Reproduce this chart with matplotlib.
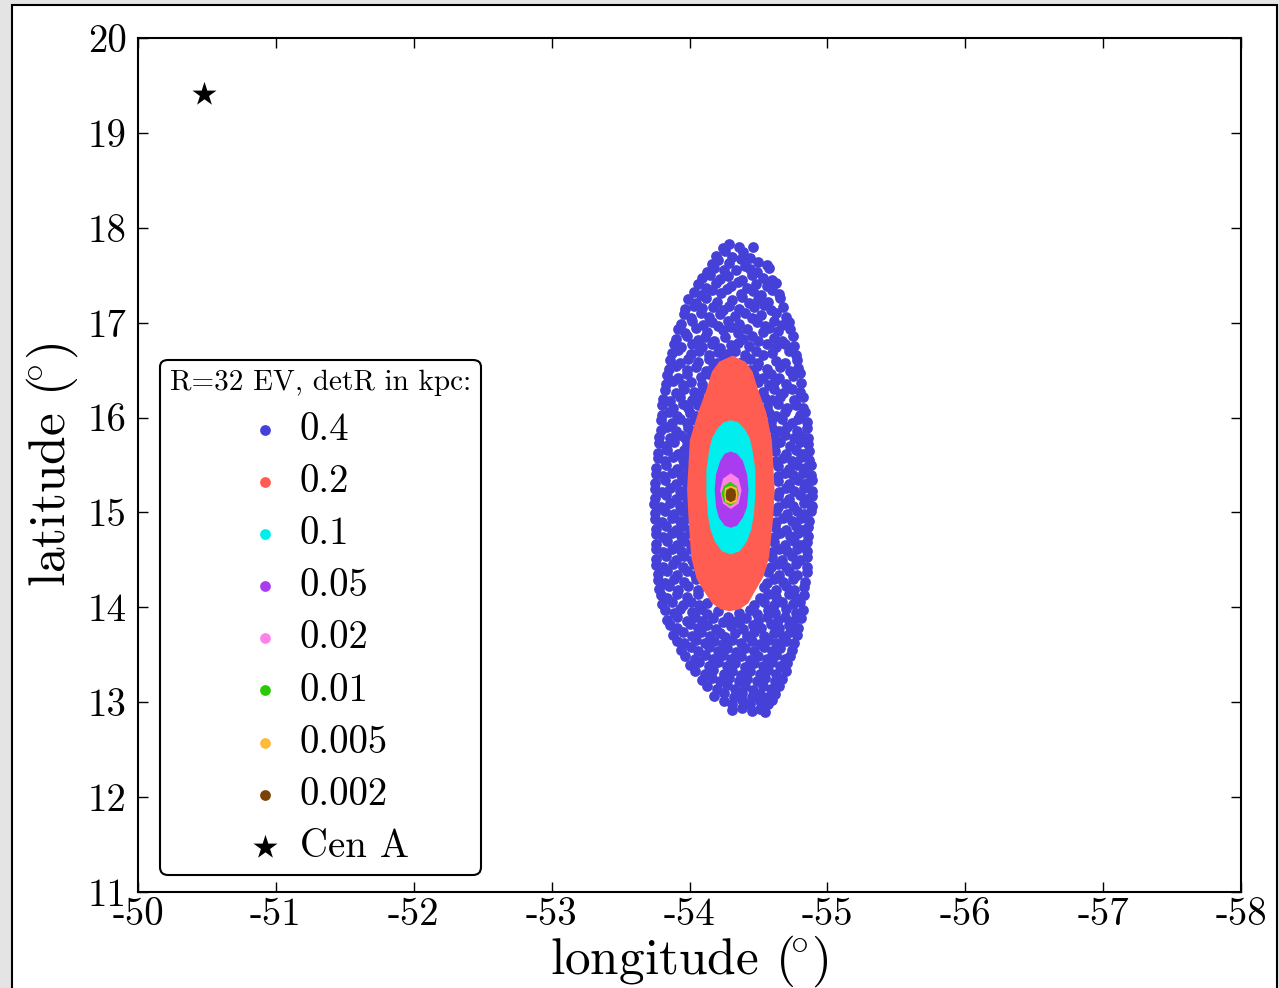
import matplotlib
matplotlib.use("Agg")
import matplotlib.pyplot as plt
from matplotlib.patches import Rectangle

plt.rcParams['font.family'] = 'serif'
plt.rcParams['font.serif'] = ['cmr10']
plt.rcParams['mathtext.fontset'] = 'cm'
plt.rcParams['axes.unicode_minus'] = False

# legend labels (detR in kpc) and colours
detr_labels = ['0.4', '0.2', '0.1', '0.05', '0.02', '0.01', '0.005', '0.002']
detr_colors = ['#4540d8', '#ff5c52', '#00eeee', '#a93cee', '#ff82e6',
               '#2cc80a', '#ffbb38', '#7a4306']

# Cen A position (lon, lat)
cen_a = (-50.48, 19.41)

blue_pts = [
    (-54.24,17.79),(-54.29,17.83),(-54.36,17.80),(-54.46,17.80),
    (-54.19,17.70),(-54.26,17.75),(-54.31,17.69),(-54.39,17.74),(-54.44,17.68),
    (-54.16,17.62),(-54.21,17.66),(-54.29,17.63),(-54.37,17.67),(-54.40,17.60),(-54.50,17.64),(-54.56,17.61),
    (-54.13,17.53),(-54.18,17.58),(-54.25,17.55),(-54.34,17.56),(-54.44,17.57),(-54.49,17.53),(-54.58,17.58),
    (-54.09,17.47),(-54.15,17.50),(-54.22,17.46),(-54.28,17.49),(-54.38,17.45),(-54.45,17.50),(-54.53,17.47),(-54.60,17.45),
    (-54.06,17.41),(-54.12,17.37),(-54.19,17.42),(-54.30,17.39),(-54.35,17.43),(-54.42,17.37),(-54.48,17.41),(-54.56,17.39),(-54.63,17.42),
    (-54.03,17.32),(-54.08,17.29),(-54.16,17.34),(-54.23,17.31),(-54.27,17.35),(-54.37,17.30),(-54.46,17.33),(-54.52,17.29),(-54.60,17.34),(-54.65,17.30),
    (-53.99,17.25),(-54.05,17.21),(-54.12,17.26),(-54.20,17.22),(-54.31,17.24),(-54.38,17.27),(-54.43,17.21),(-54.50,17.25),(-54.57,17.22),(-54.66,17.26),
    (-53.97,17.14),(-54.03,17.18),(-54.09,17.15),(-54.17,17.17),(-54.24,17.13),(-54.29,17.18),(-54.36,17.14),(-54.47,17.16),(-54.54,17.19),(-54.59,17.13),(-54.68,17.16),
    (-53.96,17.09),(-54.01,17.05),(-54.08,17.10),(-54.14,17.06),(-54.22,17.09),(-54.33,17.07),(-54.40,17.10),(-54.45,17.05),(-54.52,17.08),(-54.63,17.10),(-54.70,17.06),
    (-53.94,16.99),(-54.02,17.02),(-54.10,16.98),(-54.16,17.01),(-54.21,16.97),(-54.28,17.02),(-54.36,16.99),(-54.49,17.01),(-54.55,16.97),(-54.61,17.02),(-54.67,16.98),(-54.72,17.01),
    (-53.92,16.93),(-53.97,16.89),(-54.05,16.94),(-54.13,16.90),(-54.24,16.92),(-54.30,16.95),(-54.35,16.89),(-54.42,16.93),(-54.53,16.90),(-54.58,16.94),(-54.64,16.91),(-54.73,16.93),
    (-53.90,16.83),(-53.98,16.86),(-54.06,16.82),(-54.11,16.85),(-54.18,16.81),(-54.26,16.85),(-54.39,16.83),(-54.45,16.86),(-54.50,16.81),(-54.61,16.84),(-54.67,16.81),(-54.75,16.86),
    (-53.89,16.77),(-53.94,16.74),(-54.02,16.78),(-54.09,16.74),(-54.16,16.77),(-54.22,16.73),(-54.30,16.76),(-54.35,16.79),(-54.43,16.75),(-54.56,16.77),(-54.63,16.74),(-54.69,16.78),(-54.76,16.75),
    (-53.87,16.68),(-53.92,16.71),(-54.01,16.67),(-54.07,16.70),(-54.14,16.66),(-54.21,16.69),(-54.27,16.67),(-54.33,16.70),(-54.40,16.66),(-54.48,16.70),(-54.53,16.66),(-54.60,16.68),(-54.72,16.70),(-54.77,16.66),
    (-53.86,16.61),(-53.93,16.58),(-53.99,16.62),(-54.06,16.59),(-54.14,16.62),(-54.20,16.57),(-54.24,16.61),(-54.38,16.59),(-54.44,16.62),(-54.50,16.58),(-54.63,16.60),(-54.69,16.57),(-54.78,16.61),
    (-53.85,16.51),(-53.90,16.54),(-53.98,16.50),(-54.05,16.53),(-54.12,16.49),(-54.17,16.53),(-54.44,16.50),(-54.49,16.54),(-54.56,16.51),(-54.66,16.53),(-54.73,16.49),(-54.79,16.52),
    (-53.84,16.45),(-53.92,16.42),(-53.98,16.46),(-54.08,16.43),(-54.14,16.46),(-54.47,16.45),(-54.53,16.42),(-54.59,16.46),(-54.65,16.42),(-54.75,16.44),(-54.80,16.47),
    (-53.83,16.35),(-53.88,16.38),(-53.95,16.34),(-54.01,16.37),(-54.09,16.35),(-54.50,16.37),(-54.58,16.34),(-54.62,16.38),(-54.70,16.35),(-54.81,16.36),
    (-53.82,16.29),(-53.90,16.26),(-53.96,16.30),(-54.03,16.27),(-54.10,16.30),(-54.53,16.27),(-54.61,16.30),(-54.68,16.26),(-54.74,16.30),(-54.80,16.27),
    (-53.81,16.20),(-53.86,16.17),(-53.93,16.22),(-54.02,16.19),(-54.07,16.22),(-54.55,16.21),(-54.60,16.18),(-54.66,16.22),(-54.76,16.19),(-54.82,16.22),
    (-53.80,16.13),(-53.88,16.10),(-53.95,16.14),(-53.99,16.10),(-54.06,16.13),(-54.56,16.11),(-54.64,16.14),(-54.71,16.10),(-54.77,16.13),(-54.82,16.10),
    (-53.80,16.03),(-53.85,16.06),(-53.91,16.02),(-54.00,16.05),(-54.05,16.02),(-54.58,16.05),(-54.63,16.02),(-54.69,16.06),(-54.80,16.03),(-54.84,16.06),
    (-53.79,15.97),(-53.87,15.94),(-53.93,15.98),(-53.98,15.94),(-54.04,15.97),(-54.59,15.95),(-54.67,15.98),(-54.74,15.94),(-54.79,15.98),(-54.85,15.95),
    (-53.79,15.87),(-53.84,15.90),(-53.90,15.86),(-53.99,15.89),(-54.03,15.86),(-54.60,15.89),(-54.65,15.86),(-54.71,15.90),(-54.78,15.86),(-54.85,15.89),
    (-53.78,15.80),(-53.86,15.78),(-53.93,15.82),(-53.97,15.78),(-54.02,15.82),(-54.61,15.79),(-54.69,15.82),(-54.76,15.78),(-54.81,15.81),(-54.86,15.78),
    (-53.78,15.73),(-53.83,15.70),(-53.89,15.74),(-53.98,15.71),(-54.01,15.74),(-54.62,15.71),(-54.66,15.74),(-54.73,15.70),(-54.80,15.74),(-54.86,15.72),
    (-53.77,15.63),(-53.84,15.66),(-53.92,15.62),(-53.96,15.66),(-54.01,15.62),(-54.62,15.65),(-54.70,15.62),(-54.77,15.66),(-54.82,15.62),(-54.87,15.65),
    (-53.77,15.57),(-53.82,15.54),(-53.88,15.58),(-53.95,15.55),(-54.00,15.58),(-54.63,15.54),(-54.68,15.57),(-54.74,15.54),(-54.81,15.58),(-54.87,15.55),
    (-53.76,15.47),(-53.83,15.50),(-53.91,15.46),(-53.96,15.50),(-54.00,15.46),(-54.64,15.49),(-54.72,15.46),(-54.78,15.50),(-54.84,15.47),(-54.88,15.50),
    (-53.76,15.41),(-53.81,15.38),(-53.87,15.42),(-53.94,15.39),(-53.99,15.42),(-54.64,15.38),(-54.69,15.42),(-54.75,15.39),(-54.82,15.42),(-54.88,15.39),
    (-53.75,15.31),(-53.82,15.34),(-53.90,15.30),(-53.95,15.34),(-53.99,15.30),(-54.64,15.33),(-54.72,15.30),(-54.79,15.34),(-54.85,15.31),(-54.89,15.34),
    (-53.75,15.25),(-53.80,15.22),(-53.86,15.26),(-53.93,15.23),(-53.98,15.26),(-54.65,15.22),(-54.70,15.26),(-54.76,15.23),(-54.83,15.26),(-54.89,15.23),
    (-53.75,15.15),(-53.83,15.18),(-53.90,15.14),(-53.95,15.18),(-53.99,15.14),(-54.64,15.17),(-54.72,15.14),(-54.80,15.18),(-54.85,15.14),(-54.89,15.17),
    (-53.74,15.09),(-53.79,15.06),(-53.86,15.10),(-53.93,15.07),(-53.98,15.10),(-54.64,15.06),(-54.69,15.10),(-54.75,15.07),(-54.83,15.10),(-54.89,15.07),
    (-53.75,14.99),(-53.82,15.02),(-53.89,14.98),(-53.95,15.02),(-53.99,14.98),(-54.63,15.01),(-54.71,14.98),(-54.78,15.02),(-54.83,14.98),(-54.88,15.01),
    (-53.75,14.93),(-53.80,14.90),(-53.87,14.94),(-53.93,14.91),(-53.99,14.94),(-54.63,14.90),(-54.68,14.94),(-54.74,14.91),(-54.81,14.94),(-54.87,14.91),
    (-53.76,14.83),(-53.83,14.86),(-53.90,14.82),(-53.95,14.86),(-54.00,14.82),(-54.62,14.85),(-54.70,14.82),(-54.77,14.86),(-54.82,14.82),(-54.86,14.85),
    (-53.76,14.77),(-53.81,14.74),(-53.87,14.78),(-53.94,14.75),(-54.00,14.78),(-54.61,14.74),(-54.66,14.78),(-54.73,14.75),(-54.79,14.78),(-54.86,14.75),
    (-53.76,14.67),(-53.84,14.70),(-53.91,14.66),(-53.96,14.70),(-54.01,14.66),(-54.61,14.69),(-54.69,14.66),(-54.76,14.70),(-54.81,14.66),(-54.85,14.69),
    (-53.76,14.61),(-53.81,14.58),(-53.87,14.62),(-53.94,14.59),(-54.01,14.62),(-54.60,14.58),(-54.65,14.62),(-54.71,14.59),(-54.78,14.62),(-54.85,14.59),
    (-53.76,14.51),(-53.83,14.54),(-53.90,14.50),(-53.96,14.54),(-54.02,14.50),(-54.60,14.53),(-54.67,14.50),(-54.74,14.54),(-54.80,14.50),(-54.85,14.53),
    (-53.76,14.45),(-53.81,14.42),(-53.88,14.46),(-53.95,14.43),(-54.03,14.46),(-54.59,14.42),(-54.64,14.46),(-54.70,14.43),(-54.77,14.46),(-54.85,14.43),
    (-53.77,14.35),(-53.84,14.38),(-53.91,14.34),(-53.98,14.38),(-54.04,14.34),(-54.57,14.37),(-54.65,14.34),(-54.72,14.38),(-54.78,14.34),(-54.85,14.37),
    (-53.77,14.29),(-53.82,14.26),(-53.89,14.30),(-53.96,14.27),(-54.05,14.30),(-54.56,14.26),(-54.61,14.30),(-54.68,14.27),(-54.75,14.30),(-54.84,14.27),
    (-53.78,14.19),(-53.85,14.22),(-53.92,14.18),(-53.99,14.22),(-54.06,14.18),(-54.54,14.21),(-54.63,14.18),(-54.70,14.22),(-54.76,14.18),(-54.83,14.21),
    (-53.79,14.13),(-53.84,14.10),(-53.91,14.14),(-53.98,14.11),(-54.06,14.14),(-54.51,14.10),(-54.57,14.14),(-54.63,14.11),(-54.72,14.14),(-54.77,14.10),(-54.83,14.13),
    (-53.80,14.03),(-53.87,14.06),(-53.95,14.02),(-54.01,14.06),(-54.07,14.02),(-54.13,14.05),(-54.47,14.02),(-54.54,14.06),(-54.61,14.02),(-54.67,14.06),(-54.75,14.03),(-54.80,14.06),
    (-53.82,13.97),(-53.89,13.94),(-53.93,13.98),(-54.02,13.95),(-54.08,13.98),(-54.13,13.93),(-54.21,13.96),(-54.36,13.94),(-54.44,13.97),(-54.49,13.93),(-54.57,13.97),(-54.62,13.94),(-54.70,13.98),(-54.77,13.94),(-54.82,13.97),
    (-53.84,13.87),(-53.91,13.90),(-53.98,13.86),(-54.04,13.90),(-54.09,13.86),(-54.17,13.89),(-54.24,13.85),(-54.28,13.90),(-54.34,13.86),(-54.41,13.89),(-54.50,13.86),(-54.56,13.90),(-54.64,13.87),(-54.69,13.90),(-54.75,13.86),(-54.81,13.89),
    (-53.86,13.81),(-53.91,13.78),(-54.00,13.82),(-54.06,13.78),(-54.13,13.81),(-54.19,13.77),(-54.30,13.80),(-54.36,13.83),(-54.39,13.77),(-54.46,13.81),(-54.52,13.78),(-54.59,13.82),(-54.65,13.78),(-54.72,13.81),(-54.79,13.78),
    (-53.88,13.71),(-53.95,13.74),(-54.02,13.70),(-54.08,13.74),(-54.15,13.70),(-54.22,13.73),(-54.26,13.69),(-54.33,13.73),(-54.42,13.70),(-54.47,13.74),(-54.54,13.70),(-54.61,13.73),(-54.68,13.70),(-54.73,13.74),(-54.78,13.71),
    (-53.91,13.65),(-53.96,13.62),(-54.05,13.66),(-54.11,13.62),(-54.18,13.65),(-54.24,13.61),(-54.31,13.66),(-54.37,13.62),(-54.45,13.65),(-54.51,13.61),(-54.57,13.66),(-54.63,13.62),(-54.70,13.65),(-54.76,13.62),
    (-53.94,13.55),(-54.01,13.58),(-54.06,13.54),(-54.14,13.58),(-54.21,13.54),(-54.27,13.57),(-54.34,13.53),(-54.40,13.57),(-54.47,13.54),(-54.54,13.58),(-54.60,13.54),(-54.66,13.57),(-54.74,13.55),
    (-53.97,13.49),(-54.04,13.46),(-54.11,13.50),(-54.17,13.46),(-54.24,13.50),(-54.30,13.46),(-54.37,13.49),(-54.44,13.45),(-54.50,13.49),(-54.56,13.46),(-54.63,13.50),(-54.69,13.46),(-54.73,13.49),
    (-54.00,13.39),(-54.07,13.42),(-54.14,13.38),(-54.21,13.42),(-54.27,13.38),(-54.33,13.41),(-54.40,13.37),(-54.47,13.41),(-54.53,13.38),(-54.60,13.42),(-54.66,13.38),(-54.71,13.41),
    (-54.04,13.33),(-54.11,13.30),(-54.17,13.34),(-54.25,13.30),(-54.31,13.33),(-54.37,13.29),(-54.44,13.33),(-54.51,13.30),(-54.57,13.34),(-54.63,13.30),(-54.70,13.33),
    (-54.09,13.23),(-54.16,13.26),(-54.22,13.22),(-54.29,13.26),(-54.36,13.22),(-54.42,13.25),(-54.49,13.22),(-54.55,13.26),(-54.62,13.22),(-54.67,13.25),
    (-54.13,13.17),(-54.20,13.14),(-54.27,13.18),(-54.33,13.14),(-54.40,13.17),(-54.46,13.13),(-54.53,13.17),(-54.59,13.14),(-54.65,13.17),
    (-54.18,13.07),(-54.25,13.10),(-54.32,13.06),(-54.38,13.10),(-54.45,13.06),(-54.51,13.09),(-54.57,13.06),(-54.62,13.09),
    (-54.25,13.01),(-54.31,12.98),(-54.38,13.02),(-54.44,12.98),(-54.51,13.01),(-54.57,12.98),(-54.60,13.02),
    (-54.31,12.92),(-54.38,12.94),(-54.45,12.91),(-54.51,12.93),(-54.55,12.90),
]

# denser detR values: outer edge of the (solid-looking) point clouds
red_outline = [(-54.31,16.64),(-54.22,16.58),(-54.17,16.48),(-54.13,16.29),(-54.07,16.05),
               (-54.01,15.76),(-54.00,15.50),(-53.99,15.24),(-54.00,14.95),(-54.02,14.53),
               (-54.06,14.30),(-54.11,14.18),(-54.17,14.05),(-54.23,13.99),(-54.29,13.97),
               (-54.36,13.99),(-54.42,14.05),(-54.47,14.18),(-54.53,14.33),(-54.57,14.53),
               (-54.60,14.95),(-54.61,15.24),(-54.60,15.50),(-54.59,15.76),(-54.55,16.05),
               (-54.49,16.29),(-54.45,16.48),(-54.40,16.58)]
cyan_outline = [(-54.30,15.96),(-54.25,15.94),(-54.21,15.88),(-54.17,15.78),(-54.15,15.65),
                (-54.13,15.45),(-54.13,15.20),(-54.14,14.98),(-54.16,14.82),(-54.19,14.70),
                (-54.24,14.60),(-54.30,14.57),(-54.36,14.60),(-54.41,14.70),(-54.44,14.82),
                (-54.46,14.98),(-54.47,15.20),(-54.47,15.45),(-54.45,15.65),(-54.43,15.78),
                (-54.39,15.88),(-54.35,15.94)]
purple_outline = [(-54.30,15.63),(-54.26,15.61),(-54.23,15.54),(-54.20,15.40),(-54.19,15.24),
                  (-54.20,15.06),(-54.22,14.95),(-54.26,14.87),(-54.30,14.85),(-54.34,14.87),
                  (-54.38,14.95),(-54.41,15.06),(-54.42,15.24),(-54.41,15.40),(-54.38,15.54),
                  (-54.34,15.61)]
pink_outline = [(-54.30,15.40),(-54.25,15.35),(-54.23,15.23),(-54.25,15.10),(-54.30,15.05),
                (-54.35,15.10),(-54.37,15.23),(-54.35,15.35)]
green_outline = [(-54.295,15.31),(-54.255,15.27),(-54.24,15.20),(-54.255,15.12),(-54.295,15.08),
                 (-54.335,15.12),(-54.35,15.20),(-54.335,15.27)]
orange_outline = [(-54.30,15.27),(-54.265,15.25),(-54.26,15.19),(-54.265,15.12),(-54.30,15.10),
                  (-54.335,15.12),(-54.34,15.19),(-54.335,15.25)]
brown_outline = [(-54.30,15.25),(-54.275,15.23),(-54.27,15.185),(-54.275,15.14),(-54.30,15.12),
                 (-54.325,15.14),(-54.33,15.185),(-54.325,15.23)]

outlines = [red_outline, cyan_outline, purple_outline, pink_outline,
            green_outline, orange_outline, brown_outline]

fig = plt.figure(figsize=(12.79, 9.88), dpi=100)
fig.patch.set_facecolor('#e4e4e4')
fig.add_artist(Rectangle((12 / 1279, -0.01), 1265 / 1279, 1.0 - 5 / 988 + 0.01,
                         transform=fig.transFigure, fc='white', ec='black',
                         lw=1.5, zorder=-1))
ax = fig.add_axes([138 / 1279, 1 - 892 / 988, 1103 / 1279, 854 / 988])

dot = 60
blon = [p[0] for p in blue_pts]
blat = [p[1] for p in blue_pts]
ax.scatter(blon, blat, s=dot, color=detr_colors[0], lw=0, label=detr_labels[0])

for pts, col, lab in zip(outlines, detr_colors[1:], detr_labels[1:]):
    ax.fill([p[0] for p in pts], [p[1] for p in pts], color=col, lw=1.5)
    ax.scatter([], [], s=dot, color=col, lw=0, label=lab)

ax.scatter([cen_a[0]], [cen_a[1]], marker='*', s=330, color='k', lw=0, label='Cen A')

ax.set_xlim(-50, -58)
ax.set_ylim(11, 20)
ax.set_xticks(range(-50, -59, -1))
ax.set_yticks(range(11, 21))
ax.tick_params(direction='in', top=True, right=True, length=7, width=1,
               labelsize=28, pad=4)
ax.tick_params(axis='y', pad=8)
for s in ax.spines.values():
    s.set_linewidth(1.5)

ax.set_xlabel(r'longitude ($\!{}^{\circ}$)', fontsize=37, labelpad=0)
ax.set_ylabel(r'latitude ($\!{}^{\circ}$)', fontsize=37, labelpad=6)

leg = ax.legend(loc='lower left', bbox_to_anchor=(0.02, 0.02), borderaxespad=0,
                fontsize=28, title='R=32 EV, detR in kpc:', title_fontsize=21,
                scatterpoints=1, handlelength=1.7, handletextpad=0.05,
                labelspacing=0.42, borderpad=0.25, fancybox=True, framealpha=1)
leg.get_frame().set_edgecolor('black')
leg.get_frame().set_linewidth(1.5)

fig.savefig('out.png', dpi=100, facecolor=fig.get_facecolor())
